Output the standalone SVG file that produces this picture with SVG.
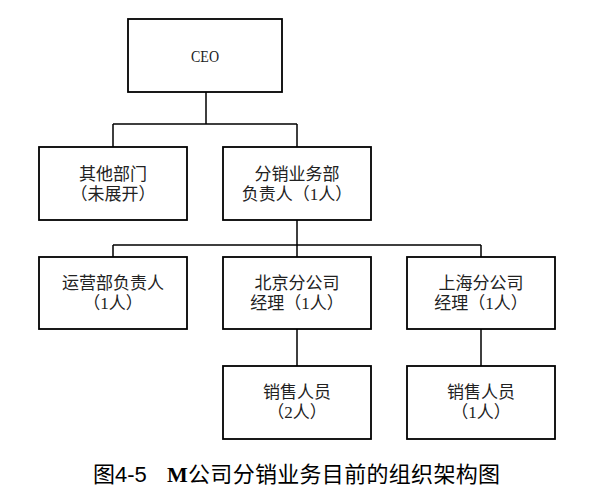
<svg xmlns="http://www.w3.org/2000/svg" width="604" height="496" viewBox="0 0 604 496">
<style>
.box{fill:#fff;stroke:#000;stroke-width:1.8}
.ln{fill:none;stroke:#000;stroke-width:1.5}
.t{font-family:"Liberation Serif","Noto Sans CJK SC",serif;font-size:17px;fill:#222;text-anchor:middle}
.cap{font-family:"Liberation Serif","Noto Sans CJK SC",serif;font-size:22px;fill:#000}
</style>
<rect width="604" height="496" fill="#fff"/>
<g id="connectors">
<path class="ln" d="M206,92V124M113,124H297M113,124V147M297,124V147"/>
<path class="ln" d="M297,220V245M113,245H481M113,245V257M297,245V257M481,245V257"/>
<path class="ln" d="M297,329V366M481,329V366"/>
</g>
<g id="ceo"><rect class="box" x="128" y="19" width="154" height="73"/><text class="t" x="205" y="62" font-size="19" textLength="28" lengthAdjust="spacingAndGlyphs">CEO</text></g>
<g id="other"><rect class="box" x="39" y="147" width="148" height="73"/><text class="t" x="113" y="179.5">其他部门</text><text class="t" x="113" y="199.5">（未展开）</text></g>
<g id="dist"><rect class="box" x="223" y="147" width="148" height="73"/><text class="t" x="297" y="179.5">分销业务部</text><text class="t" x="297" y="199.5">负责人（1人）</text></g>
<g id="ops"><rect class="box" x="39" y="257" width="148" height="72"/><text class="t" x="113" y="289">运营部负责人</text><text class="t" x="113" y="309">（1人）</text></g>
<g id="bj"><rect class="box" x="223" y="257" width="148" height="72"/><text class="t" x="297" y="289">北京分公司</text><text class="t" x="297" y="309">经理（1人）</text></g>
<g id="sh"><rect class="box" x="407" y="257" width="148" height="72"/><text class="t" x="481" y="289">上海分公司</text><text class="t" x="481" y="309">经理（1人）</text></g>
<g id="bjsales"><rect class="box" x="223" y="366" width="148" height="73"/><text class="t" x="297" y="398">销售人员</text><text class="t" x="297" y="418">（2人）</text></g>
<g id="shsales"><rect class="box" x="407" y="366" width="148" height="73"/><text class="t" x="481" y="398">销售人员</text><text class="t" x="481" y="418">（1人）</text></g>
<g id="caption"><text class="cap" x="93" y="482">图<tspan font-family="Liberation Sans,sans-serif">4-5</tspan></text><text class="cap" x="167" y="482" textLength="333" lengthAdjust="spacing"><tspan font-weight="bold">M</tspan>公司分销业务目前的组织架构图</text></g>
</svg>
